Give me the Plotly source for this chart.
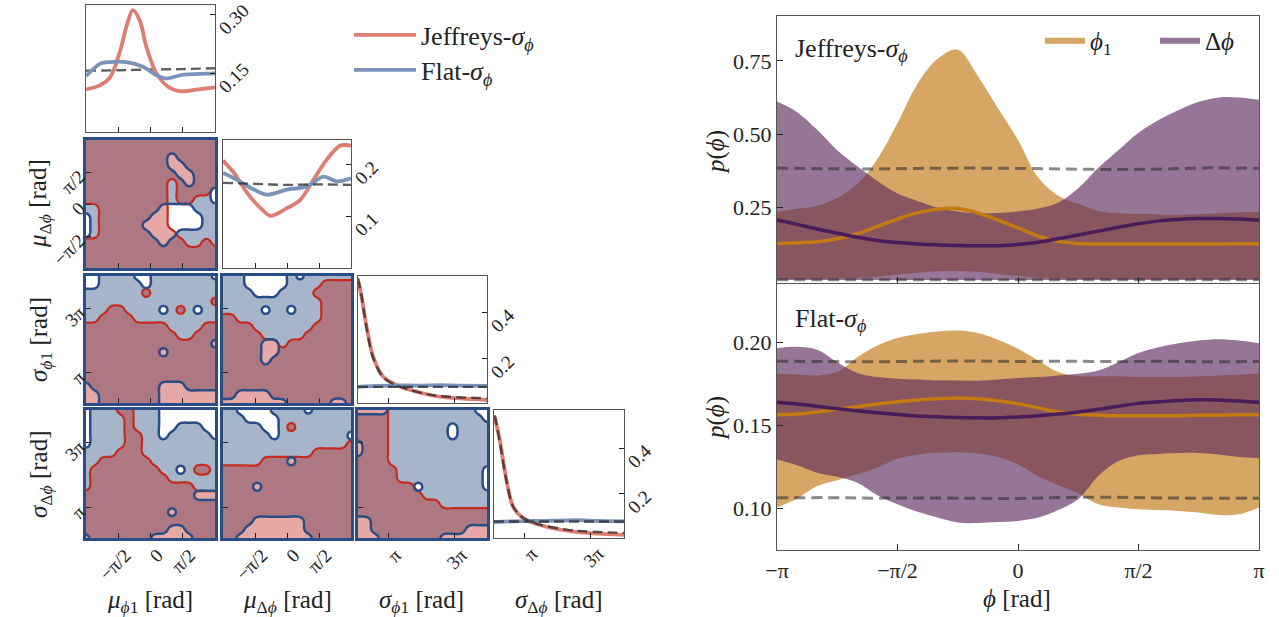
import numpy as np
import plotly.graph_objects as go

W, H = 1279, 617
PI = np.pi
FONT = "Liberation Serif"
INK = "#222222"

# ======================= DATA: corner-plot 1D marginals =======================
mu1_jef_x = [-3.14, -2.45, -1.97, -1.47, -1.14, -0.86, -0.52, -0.19, 0.29, 0.90, 1.52, 2.33, 3.14]
mu1_jef_y = [0.109, 0.120, 0.140, 0.209, 0.276, 0.312, 0.285, 0.216, 0.150, 0.114, 0.104, 0.109, 0.114]
mu1_flat_x = [-3.14, -2.45, -1.97, -1.17, -0.37, 0.27, 0.75, 1.55, 3.14]
mu1_flat_y = [0.143, 0.175, 0.179, 0.179, 0.167, 0.146, 0.137, 0.146, 0.150]
mu_prior_x = [-3.14, -1.57, 0.0, 1.57, 3.14]
mu1_prior_y = [0.157, 0.158, 0.160, 0.161, 0.163]

dmu_jef_x = [-3.14, -2.60, -1.95, -1.30, -0.80, 0.0, 0.65, 1.30, 1.95, 2.60, 3.14]
dmu_jef_y = [0.208, 0.184, 0.145, 0.116, 0.101, 0.116, 0.132, 0.171, 0.210, 0.237, 0.237]
dmu_flat_x = [-3.14, -2.60, -1.63, -0.98, 0.0, 0.98, 1.79, 2.44, 3.14]
dmu_flat_y = [0.184, 0.174, 0.152, 0.142, 0.152, 0.158, 0.177, 0.168, 0.174]
dmu_prior_y = [0.165, 0.163, 0.161, 0.162, 0.161]

s1_jef_x = [0.22, 0.54, 1.02, 1.65, 2.60, 3.87, 6.41, 8.00, 12.57]
s1_jef_y = [0.534, 0.469, 0.340, 0.210, 0.124, 0.088, 0.052, 0.037, 0.023]
s1_jprior_y = [0.548, 0.472, 0.335, 0.205, 0.122, 0.086, 0.052, 0.040, 0.030]
s_flat_x = [0.2, 2.0, 4.0, 6.0, 8.0, 10.0, 12.57]
s1_flat_y = [0.080, 0.084, 0.086, 0.085, 0.087, 0.085, 0.084]
s_fprior_x = [0.2, 12.57]
s_fprior_y = [0.0796, 0.0796]

s2_jef_x = [0.27, 0.75, 1.39, 2.02, 2.98, 4.58, 7.76, 12.57]
s2_jef_y = [0.538, 0.436, 0.261, 0.144, 0.094, 0.064, 0.035, 0.021]
s2_jprior_y = [0.545, 0.430, 0.255, 0.145, 0.095, 0.066, 0.040, 0.030]
s2_flat_y = [0.077, 0.080, 0.082, 0.083, 0.085, 0.082, 0.080]

# ============ DATA: corner-plot 2D 90% regions (rows top->bottom, 1 = inside) ============
M21_J = ["1111111111111111", "1111111111111111", "1111111111111111", "1111111111111111",
         "1111111111111111", "1111111111011111", "1111111111011110", "1111111111011000",
         "0011111111000000", "0011111111000000", "0011111111000000", "0011111111100000",
         "1111111111110010", "1111111111111111", "1111111111111111", "1111111111111111"]
M21_F = ["1111111111111111", "1111111111111111", "1111111111011111", "1111111111001111",
         "1111111111100111", "1111111111110111", "1111111111111110", "1111111111111110",
         "1111111110000111", "0111111100000011", "0111111000000011", "0111111100011111",
         "1111111110111111", "1111111111111111", "1111111111111111", "1111111111111111"]

M31_J = ["0000000000000000", "0000000000000000", "0000000100000000", "0000000000000001",
         "0001100000010000", "0011110000000000", "1111111111000011", "1111111111100111",
         "1111111111111111", "1111111111111111", "1111111111111111", "1111111111111111",
         "1111111111111111", "1111111111111111", "1111111111111111", "1111111111111111"]
M31_F = ["0011110011111110", "0011111011111111", "1111111111111111", "1111111111111111",
         "1111111110111011", "1111111111111111", "1111111111111111", "1111111111111111",
         "1111111111111110", "1111111110111111", "1111111111111111", "1111111111111111",
         "1111111111111111", "0111111110001111", "0011111110000000", "0011111110000000"]

M32_J = ["0000000000000000", "0000000000001111", "0000000000011111", "0000000000001111",
         "0000000000001111", "1100000000001111", "1111000000011111", "1111100000111111",
         "1111111011111111", "1111111111111111", "1111111111111111", "1111111111111111",
         "1111111111111111", "1111111111111111", "1111111111111111", "1111111111111111"]
M32_F = ["1110000010111111", "1110000011111111", "1111000111111111", "1111111111111111",
         "1111101101111111", "1111111111111111", "1111111111111111", "1111111111111111",
         "1111100111111111", "1111100111111111", "1111101111111111", "1111111111111111",
         "1111111111111111", "1111111111111111", "1100001111111111", "0000000011111001"]

M41_J = ["0000110000000000", "0000010000000000", "0000010000000000", "0000011000000000",
         "0000011000000000", "0000111000000000", "0011111100000000", "0111111110000110",
         "0111111111000000", "0111111111111000", "1111111111111111", "1111111111111111",
         "1111111111111111", "1111111111111111", "1111111111111111", "1111111111111111"]
M41_F = ["0111111110000000", "0111111110000000", "0111111110011100", "0111111110111110",
         "0111111111111111", "1111111111111111", "1111111111111111", "1111111111101111",
         "1111111111111111", "1111111111111111", "1111111111111000", "1111111111111111",
         "1111111111011111", "1111111111111111", "1111111111001111", "0111111100000111"]

M42_J = ["0000000000000000", "0000000000000000", "0000000010000000", "0000000000000000",
         "0000000000000001", "0000000000011111", "0000011111111111", "1111111111111111",
         "1111111111111111", "1111111111111111", "1111111111111111", "1111111111111111",
         "1111111111111111", "1111111111111111", "1111111111111111", "1111111111111111"]
M42_F = ["1100001111011111", "1110000111111111", "1111100111111111", "1111110111111110",
         "1111111111111111", "1111111111111111", "1111111101111111", "1111111111111111",
         "1111111111111111", "1111011111111111", "1111111111111111", "1111111111111111",
         "1111111111111111", "1111000000111111", "1110000000111111", "1100000000011111"]

M43_J = ["1111000000000000", "1111000000000000", "1111000000000000", "1111000000000000",
         "1111000000000000", "1111000000000000", "1111000000000000", "1111100000000000",
         "1111100000000000", "1111111000000000", "1111111100000000", "1111111111000000",
         "1111111111111111", "1111111111111111", "1111111111111111", "1111111111111111"]
M43_F = ["0000111111111100", "1111111111111110", "1111111111101111", "1111111111101111",
         "0111111111111111", "0111111111111111", "1111111111111111", "1111111111111110",
         "1111111111111110", "1111111011111110", "1111111111111111", "1111111111111111",
         "1111111111111111", "0011111111111111", "0011111111111000", "0001111111000000"]

# ======================= DATA: right-hand panels =======================
phi = np.linspace(-PI, PI, 25)
# Jeffreys-sigma panel
j_p1_hi = [0.235, 0.245, 0.256, 0.283, 0.330, 0.415, 0.538, 0.672, 0.757, 0.788, 0.698, 0.588, 0.480,
           0.352, 0.290, 0.262, 0.238, 0.230, 0.228, 0.226, 0.225, 0.227, 0.230, 0.233, 0.235]
j_p1_lo = [0.006, 0.006, 0.006, 0.007, 0.009, 0.013, 0.020, 0.027, 0.032, 0.033, 0.030, 0.023, 0.016,
           0.010, 0.007, 0.006, 0.006, 0.006, 0.006, 0.006, 0.006, 0.006, 0.006, 0.006, 0.006]
j_dp_hi = [0.611, 0.575, 0.515, 0.445, 0.390, 0.340, 0.297, 0.272, 0.249, 0.236, 0.230, 0.231, 0.236,
           0.246, 0.266, 0.315, 0.385, 0.445, 0.505, 0.548, 0.582, 0.610, 0.625, 0.625, 0.617]
j_dp_lo = [0.002] * 25
j_p1_med = [0.127, 0.129, 0.133, 0.143, 0.160, 0.185, 0.210, 0.232, 0.244, 0.246, 0.231, 0.207, 0.180,
            0.152, 0.134, 0.127, 0.125, 0.125, 0.125, 0.125, 0.125, 0.125, 0.125, 0.126, 0.126]
j_dp_med = [0.207, 0.192, 0.176, 0.162, 0.148, 0.137, 0.130, 0.125, 0.122, 0.120, 0.119, 0.119, 0.123,
            0.131, 0.143, 0.156, 0.169, 0.182, 0.194, 0.204, 0.209, 0.212, 0.212, 0.210, 0.207]
prior_x = [-3.14, -2.5, -1.9, -1.3, -0.6, 0.0, 0.6, 1.3, 1.9, 2.5, 3.14]
j_prior_hi = [0.384, 0.382, 0.381, 0.383, 0.384, 0.383, 0.381, 0.379, 0.381, 0.385, 0.383]
j_prior_lo = [0.003, 0.003, 0.003, 0.003, 0.003, 0.003, 0.003, 0.003, 0.003, 0.003, 0.003]
# Flat-sigma panel
f_p1_hi = [0.181, 0.1805, 0.180, 0.182, 0.191, 0.198, 0.2025, 0.205, 0.2065, 0.207, 0.2055, 0.2015, 0.196,
           0.189, 0.182, 0.1795, 0.1795, 0.1795, 0.179, 0.179, 0.179, 0.1795, 0.180, 0.1805, 0.181]
f_p1_lo = [0.1005, 0.106, 0.1135, 0.117, 0.1205, 0.1245, 0.130, 0.1325, 0.1335, 0.1338, 0.133, 0.131, 0.1265,
           0.1195, 0.114, 0.109, 0.1025, 0.1005, 0.0995, 0.099, 0.0985, 0.0975, 0.096, 0.0965, 0.1005]
f_dp_hi = [0.1964, 0.1972, 0.1955, 0.188, 0.1815, 0.179, 0.178, 0.1775, 0.177, 0.177, 0.1768, 0.1775, 0.1785,
           0.179, 0.180, 0.181, 0.183, 0.188, 0.1935, 0.197, 0.1993, 0.201, 0.2018, 0.201, 0.1994]
f_dp_lo = [0.1294, 0.126, 0.1215, 0.119, 0.1155, 0.108, 0.1025, 0.098, 0.0945, 0.0915, 0.0912, 0.0918, 0.0925,
           0.0945, 0.099, 0.1055, 0.1195, 0.1285, 0.132, 0.1328, 0.1333, 0.1334, 0.1325, 0.131, 0.1304]
f_p1_med = [0.1564, 0.1568, 0.158, 0.1597, 0.1612, 0.1628, 0.1642, 0.1653, 0.166, 0.1664, 0.166, 0.1648, 0.163,
            0.1605, 0.158, 0.1567, 0.1561, 0.1558, 0.1557, 0.1557, 0.1558, 0.156, 0.1561, 0.1563, 0.1564]
f_dp_med = [0.1638, 0.1628, 0.1614, 0.160, 0.1588, 0.1576, 0.1565, 0.1556, 0.1551, 0.1547, 0.1545, 0.1545, 0.155,
            0.1558, 0.1568, 0.158, 0.1596, 0.1615, 0.1632, 0.1642, 0.165, 0.1654, 0.1652, 0.1646, 0.1638]
f_prior_hi = [0.1885, 0.1884, 0.1882, 0.1885, 0.1887, 0.1884, 0.1886, 0.1883, 0.1885, 0.1882, 0.1884]
f_prior_lo = [0.1064, 0.1065, 0.1062, 0.1063, 0.1061, 0.1060, 0.1066, 0.1067, 0.1063, 0.1061, 0.1062]

# ======================= STYLE =======================
JEF_LINE = "#de7d71"
FLAT_LINE = "#7b93bb"
PRIOR = "rgba(40,40,40,0.75)"
BLUE_FILL = "#a6b5ca"
RED_FILL = "rgba(186,14,3,0.36)"
RED_EDGE = "#c42b1c"
BLUE_EDGE = "#2b4d87"
FRAME = "#555555"
ORANGE_FILL = "rgba(189,116,12,0.64)"
PURPLE_FILL = "rgba(91,41,91,0.64)"
ORANGE_LINE = "#c47a12"
PURPLE_LINE = "#4a1c5a"
BAND_PRIOR = "rgba(40,40,40,0.55)"

MU_RANGE = [-PI, PI]
SIG_RANGE = [0.2, 4 * PI]
MU_TV, MU_TT = [-PI / 2, 0, PI / 2], ["−π/2", "0", "π/2"]
SIG_TV, SIG_TT = [PI, 3 * PI], ["π", "3π"]

COLS = {1: (86, 215), 2: (223, 351), 3: (358, 487), 4: (494, 624)}
ROWS = {1: (5, 132), 2: (140, 268), 3: (276, 403), 4: (410, 538)}
VAR_OF = {1: "mu", 2: "mu", 3: "sig", 4: "sig"}


def xdom(a, b):
    return [a / W, b / W]


def ydom(t, b):
    return [1 - b / H, 1 - t / H]


fig = go.Figure()
layout = {}

TICKFONT = dict(family=FONT, size=19, color=INK)
COMMON_AX = dict(ticks="inside", ticklen=5, tickwidth=1.2, tickcolor=INK, tickangle=-45,
                 tickfont=TICKFONT, showline=True, mirror=True, showgrid=False, zeroline=False,
                 automargin=False, ticklabeloverflow="allow")


def set_axes(i, col, row, yrange, ytv, ytt, ylabels, yside, xlabels, frame, fw):
    xv = VAR_OF[col]
    layout[f"xaxis{i}"] = dict(
        domain=xdom(*COLS[col]), anchor=f"y{i}",
        range=MU_RANGE if xv == "mu" else SIG_RANGE,
        tickvals=MU_TV if xv == "mu" else SIG_TV,
        ticktext=MU_TT if xv == "mu" else SIG_TT, showticklabels=xlabels,
        ticklabelshift=7, ticklabelstandoff=-4,
        linecolor=frame, linewidth=fw, **COMMON_AX)
    layout[f"yaxis{i}"] = dict(
        domain=ydom(*ROWS[row]), anchor=f"x{i}", range=yrange,
        tickvals=ytv, ticktext=ytt, showticklabels=ylabels, side=yside,
        ticklabelshift=17 if yside == "right" else 2,
        linecolor=frame, linewidth=fw, **COMMON_AX)


def line(i, x, y, color, width=3.5, dash=None, name=None, legend=None):
    fig.add_trace(go.Scatter(
        x=x, y=y, mode="lines", line=dict(color=color, width=width, dash=dash, shape="spline", smoothing=0.9),
        xaxis=f"x{i}", yaxis=f"y{i}", hoverinfo="skip",
        name=name or "", showlegend=name is not None, legend=legend))


def cr_weights(n_fine, n_coarse):
    """Catmull-Rom interpolation weights (edge values replicated by padding 2)."""
    uf = np.linspace(0, n_coarse - 1, n_fine)
    uc = np.arange(-2, n_coarse + 2)
    t = np.abs(uf[:, None] - uc[None, :])
    return np.where(t < 1, 1.5 * t ** 3 - 2.5 * t ** 2 + 1,
                    np.where(t < 2, -0.5 * t ** 3 + 2.5 * t ** 2 - 4 * t + 2, 0.0))


def blur_weights(n, s):
    u = np.arange(n)
    k = np.exp(-(u[:, None] - u[None, :]) ** 2 / (2 * s * s))
    return k / k.sum(axis=1, keepdims=True)


def smooth_field(rows, n=91):
    z = np.array([[int(ch) for ch in r] for r in rows[::-1]], dtype=float)
    zp = np.pad(z, 2, mode="edge")
    k = cr_weights(n, z.shape[0])
    f = k @ zp @ k.T
    b = blur_weights(n, 1.6)          # light smoothing on the fine grid
    return b @ f @ b.T


def region(i, col, row, mJ, mF, n=91):
    xs = np.linspace(*(MU_RANGE if VAR_OF[col] == "mu" else SIG_RANGE), n)
    ys = np.linspace(*(MU_RANGE if VAR_OF[row] == "mu" else SIG_RANGE), n)
    common = dict(x=xs, y=ys, showscale=False, hoverinfo="skip", showlegend=False,
                  xaxis=f"x{i}", yaxis=f"y{i}")
    cons = dict(type="constraint", operation="<", value=0.5)
    zF, zJ = smooth_field(mF, n), smooth_field(mJ, n)
    fig.add_trace(go.Contour(z=zF, contours=cons, fillcolor=BLUE_FILL,
                             line=dict(width=0, smoothing=1.3), **common))
    fig.add_trace(go.Contour(z=zJ, contours=cons, fillcolor=RED_FILL,
                             line=dict(width=2.2, color=RED_EDGE, smoothing=1.3), **common))
    fig.add_trace(go.Contour(z=zF, contours=cons, fillcolor="rgba(0,0,0,0)",
                             line=dict(width=2.5, color=BLUE_EDGE, smoothing=1.3), **common))


# ---- 1D marginal panels ----
set_axes(1, 1, 1, [0, 0.325], [0.15, 0.30], ["0.15", "0.30"], True, "right", False, FRAME, 1.2)
line(1, mu_prior_x, mu1_prior_y, PRIOR, 2.4, "10px,5px")
line(1, mu1_jef_x, mu1_jef_y, JEF_LINE, 3.8, None, "Jeffreys-<i>σ</i><sub><i>ϕ</i></sub>", "legend")
line(1, mu1_flat_x, mu1_flat_y, FLAT_LINE, 3.8, None, "Flat-<i>σ</i><sub><i>ϕ</i></sub>", "legend3")

set_axes(3, 2, 2, [0, 0.248], [0.1, 0.2], ["0.1", "0.2"], True, "right", False, FRAME, 1.2)
line(3, dmu_jef_x, dmu_jef_y, JEF_LINE, 3.8)
line(3, dmu_flat_x, dmu_flat_y, FLAT_LINE, 3.8)
line(3, mu_prior_x, dmu_prior_y, PRIOR, 2.4, "10px,5px")

set_axes(6, 3, 3, [0.01, 0.558], [0.2, 0.4], ["0.2", "0.4"], True, "right", False, FRAME, 1.2)
line(6, s1_jef_x, s1_jef_y, JEF_LINE, 3.8)
line(6, s_flat_x, s1_flat_y, FLAT_LINE, 3.8)
line(6, s1_jef_x, s1_jprior_y, PRIOR, 2.4, "10px,5px")
line(6, s_fprior_x, s_fprior_y, PRIOR, 2.4, "10px,5px")

set_axes(10, 4, 4, [0.007, 0.568], [0.2, 0.4], ["0.2", "0.4"], True, "right", True, FRAME, 1.2)
line(10, s2_jef_x, s2_jef_y, JEF_LINE, 3.8)
line(10, s_flat_x, s2_flat_y, FLAT_LINE, 3.8)
line(10, s2_jef_x, s2_jprior_y, PRIOR, 2.4, "10px,5px")
line(10, s_fprior_x, s_fprior_y, PRIOR, 2.4, "10px,5px")

# ---- 2D panels ----
for i, row, col, mJ, mF in [(2, 2, 1, M21_J, M21_F), (4, 3, 1, M31_J, M31_F), (5, 3, 2, M32_J, M32_F),
                            (7, 4, 1, M41_J, M41_F), (8, 4, 2, M42_J, M42_F), (9, 4, 3, M43_J, M43_F)]:
    yv = VAR_OF[row]
    set_axes(i, col, row, MU_RANGE if yv == "mu" else SIG_RANGE,
             MU_TV if yv == "mu" else SIG_TV, MU_TT if yv == "mu" else SIG_TT,
             col == 1, "left", row == 4, BLUE_EDGE, 2.5)
    region(i, col, row, mJ, mF)

# ---- right-hand panels ----
RX = (777, 1259)
RFONT = dict(family=FONT, size=22, color=INK)
for i, (t, b), yr, ytv, ytt, xl in [(11, (16, 283), [-0.008, 0.903], [0.25, 0.5, 0.75], ["0.25", "0.50", "0.75"], False),
                                    (12, (284, 550), [0.075, 0.235], [0.10, 0.15, 0.20], ["0.10", "0.15", "0.20"], True)]:
    layout[f"xaxis{i}"] = dict(
        domain=xdom(*RX), anchor=f"y{i}", range=[-PI, PI],
        tickvals=[-PI, -PI / 2, 0, PI / 2, PI],
        ticktext=["−π", "−π/2", "0", "π/2", "π"], showticklabels=xl,
        ticks="inside", ticklen=6, tickwidth=1.2, tickcolor=INK, tickfont=RFONT,
        showline=True, linecolor=FRAME, linewidth=1.2, mirror=True, showgrid=False, zeroline=False,
        automargin=False)
    layout[f"yaxis{i}"] = dict(
        domain=ydom(t, b), anchor=f"x{i}", range=yr, tickvals=ytv, ticktext=ytt,
        ticks="inside", ticklen=6, tickwidth=1.2, tickcolor=INK, tickfont=RFONT,
        showline=True, linecolor=FRAME, linewidth=1.2, mirror=True, showgrid=False, zeroline=False,
        automargin=False)


def band(i, lo, hi, fillc, name, show):
    fig.add_trace(go.Scatter(x=phi, y=lo, mode="lines", line=dict(width=0, color=fillc, shape="spline"),
                             xaxis=f"x{i}", yaxis=f"y{i}", showlegend=False, hoverinfo="skip"))
    fig.add_trace(go.Scatter(x=phi, y=hi, mode="lines", line=dict(width=0, color=fillc, shape="spline"),
                             fill="tonexty", fillcolor=fillc, xaxis=f"x{i}", yaxis=f"y{i}",
                             name=name, showlegend=show, legend="legend2", hoverinfo="skip"))


for i, p1lo, p1hi, dplo, dphi_, pm, dm, phi_hi, phi_lo, first in [
        (11, j_p1_lo, j_p1_hi, j_dp_lo, j_dp_hi, j_p1_med, j_dp_med, j_prior_hi, j_prior_lo, True),
        (12, f_p1_lo, f_p1_hi, f_dp_lo, f_dp_hi, f_p1_med, f_dp_med, f_prior_hi, f_prior_lo, False)]:
    band(i, p1lo, p1hi, ORANGE_FILL, "<i>ϕ</i><sub>1</sub>", first)
    band(i, dplo, dphi_, PURPLE_FILL, "Δ<i>ϕ</i>", first)
    for py in (phi_hi, phi_lo):
        fig.add_trace(go.Scatter(x=prior_x, y=py, mode="lines",
                                 line=dict(color=BAND_PRIOR, width=3, dash="11px,6px", shape="spline"),
                                 xaxis=f"x{i}", yaxis=f"y{i}", showlegend=False, hoverinfo="skip"))
    fig.add_trace(go.Scatter(x=phi, y=pm, mode="lines", line=dict(color=ORANGE_LINE, width=3.5, shape="spline"),
                             xaxis=f"x{i}", yaxis=f"y{i}", showlegend=False, hoverinfo="skip"))
    fig.add_trace(go.Scatter(x=phi, y=dm, mode="lines", line=dict(color=PURPLE_LINE, width=3.5, shape="spline"),
                             xaxis=f"x{i}", yaxis=f"y{i}", showlegend=False, hoverinfo="skip"))


# ---- text ----
def ann(text, px, py, angle=0, xanchor="center", size=25):
    return dict(text=text, x=px / W, y=1 - py / H, xref="paper", yref="paper", showarrow=False,
                textangle=angle, xanchor=xanchor, yanchor="middle",
                font=dict(family=FONT, size=size, color=INK))


annotations = [
    ann("<i>μ</i><sub><i>ϕ</i>1</sub> [rad]", 150, 601),
    ann("<i>μ</i><sub>Δ<i>ϕ</i></sub> [rad]", 287, 601),
    ann("<i>σ</i><sub><i>ϕ</i>1</sub> [rad]", 422, 601),
    ann("<i>σ</i><sub>Δ<i>ϕ</i></sub> [rad]", 559, 601),
    ann("<i>μ</i><sub>Δ<i>ϕ</i></sub> [rad]", 40, 204, -90),
    ann("<i>σ</i><sub><i>ϕ</i>1</sub> [rad]", 40, 340, -90),
    ann("<i>σ</i><sub>Δ<i>ϕ</i></sub> [rad]", 40, 474, -90),
    ann("<i>p</i>(<i>ϕ</i>)", 716, 152, -90),
    ann("<i>p</i>(<i>ϕ</i>)", 716, 418, -90),
    ann("<i>ϕ</i> [rad]", 1017, 598),
    ann("Jeffreys-<i>σ</i><sub><i>ϕ</i></sub>", 793, 50, 0, "left", size=26),
    ann("Flat-<i>σ</i><sub><i>ϕ</i></sub>", 793, 320, 0, "left", size=26),
]

LEGFONT = dict(family=FONT, size=26, color=INK)
layout.update(
    template="none",
    width=W, height=H, margin=dict(l=0, r=0, t=0, b=0, autoexpand=False),
    paper_bgcolor="white", plot_bgcolor="white",
    font=dict(family=FONT, color=INK),
    annotations=annotations,
    legend=dict(x=349 / W, y=1 - 35 / H, xanchor="left", yanchor="middle", font=LEGFONT,
                bgcolor="rgba(0,0,0,0)", itemwidth=62),
    legend3=dict(x=349 / W, y=1 - 70 / H, xanchor="left", yanchor="middle", font=LEGFONT,
                 bgcolor="rgba(0,0,0,0)", itemwidth=62),
    legend2=dict(x=1040 / W, y=1 - 40 / H, xanchor="left", yanchor="middle", orientation="h",
                 traceorder="normal", font=dict(family=FONT, size=25, color=INK),
                 bgcolor="rgba(0,0,0,0)", itemwidth=40, entrywidth=60, entrywidthmode="pixels"),
)
fig.update_layout(**layout)
fig.write_html("out.html", config={"displayModeBar": False},
               post_script="document.body.style.margin='0';document.body.style.padding='0';")
